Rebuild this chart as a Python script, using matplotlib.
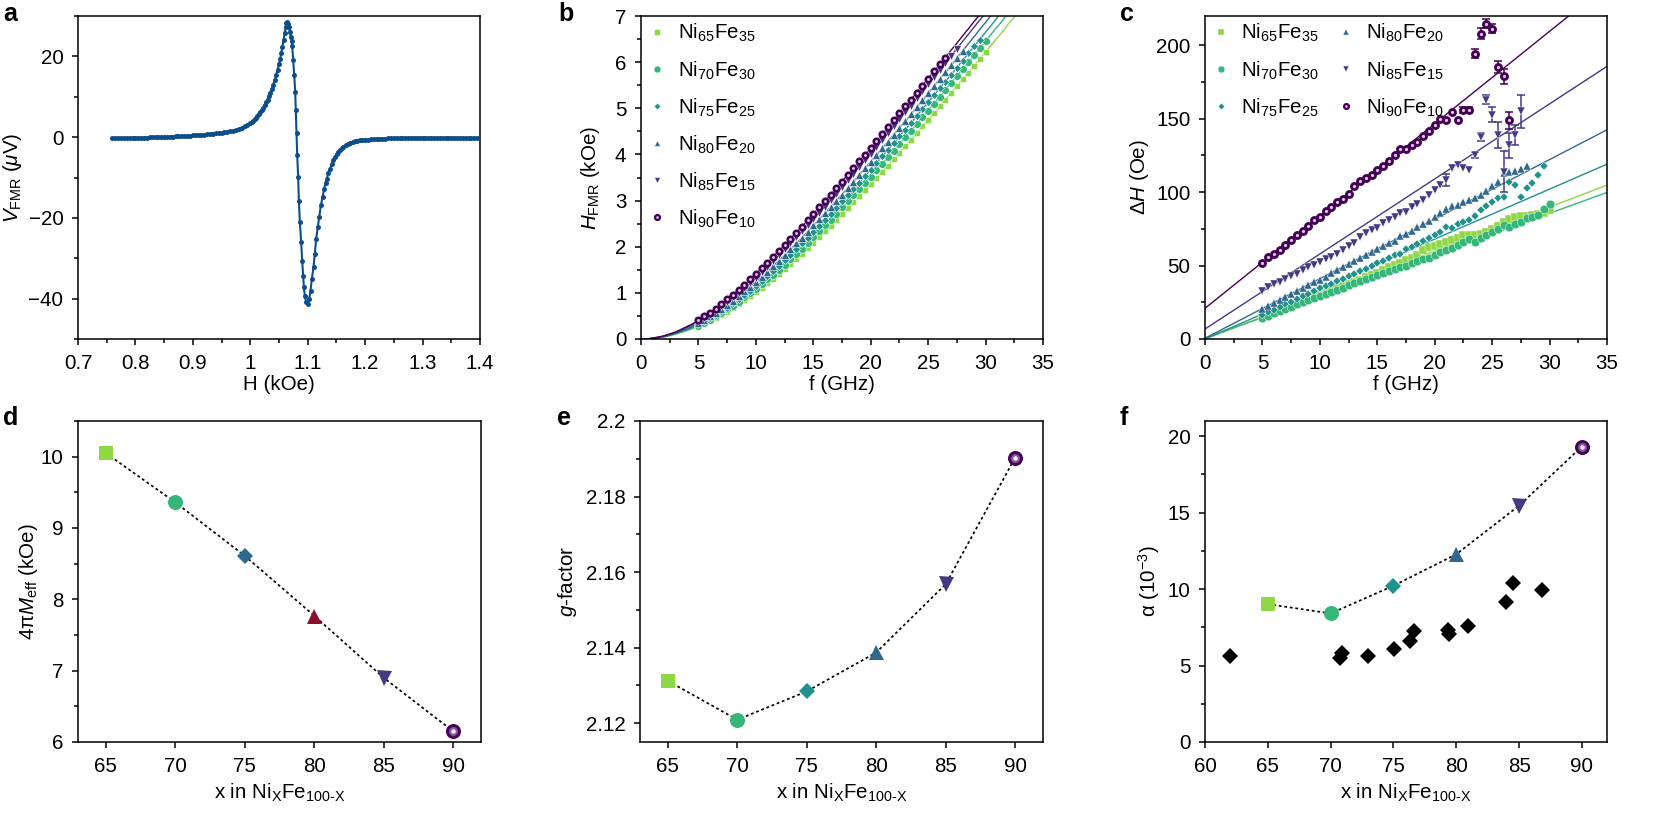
import numpy as np
import matplotlib
matplotlib.use('Agg')
import matplotlib.pyplot as plt
from matplotlib.ticker import MultipleLocator, FormatStrFormatter

plt.rcParams['font.family'] = ['Liberation Sans', 'DejaVu Sans']
plt.rcParams['mathtext.fontset'] = 'custom'
plt.rcParams['mathtext.rm'] = 'Liberation Sans'
plt.rcParams['mathtext.it'] = 'Liberation Sans:italic'
plt.rcParams['mathtext.bf'] = 'Liberation Sans:bold'
FS = 14.8
plt.rcParams['font.size'] = FS
plt.rcParams['axes.linewidth'] = 1.1

# ---------------- data ----------------
names = ['Ni$_{65}$Fe$_{35}$', 'Ni$_{70}$Fe$_{30}$', 'Ni$_{75}$Fe$_{25}$',
         'Ni$_{80}$Fe$_{20}$', 'Ni$_{85}$Fe$_{15}$', 'Ni$_{90}$Fe$_{10}$']
colors = ['#8fd744', '#35b779', '#21918c', '#31688e', '#443983', '#440154']
markers = ['s', 'o', 'D', '^', 'v', 'o']

# panel a: FMR spectrum
H_a = [0.760, 0.765, 0.770, 0.775, 0.780, 0.785, 0.790, 0.795, 0.800, 0.805,
       0.810, 0.815, 0.820, 0.825, 0.830, 0.835, 0.840, 0.845, 0.850, 0.855,
       0.860, 0.865, 0.870, 0.875, 0.880, 0.885, 0.890, 0.895, 0.900, 0.905,
       0.910, 0.915, 0.920, 0.925, 0.930, 0.935, 0.940, 0.945, 0.950, 0.955,
       0.960, 0.965, 0.970, 0.975, 0.980, 0.985, 0.990, 0.995,
       1.000, 1.0025, 1.005, 1.0075, 1.010, 1.0125, 1.015, 1.0175, 1.020, 1.0225,
       1.025, 1.0275, 1.030, 1.0325, 1.035, 1.0375, 1.040, 1.0425, 1.045, 1.0475,
       1.050, 1.052, 1.054, 1.056, 1.058, 1.060, 1.0615, 1.0626, 1.0640, 1.0655,
       1.0672, 1.0690, 1.0706, 1.0718, 1.0730, 1.0747, 1.0765, 1.0782, 1.0793, 1.0805,
       1.0817, 1.0834, 1.0846, 1.0863, 1.0886, 1.0904, 1.0921, 1.0933, 1.0950, 1.0973,
       1.0997, 1.1026, 1.1049, 1.1072, 1.1101, 1.1124, 1.1147, 1.1176, 1.1200, 1.1229,
       1.1258, 1.1287, 1.131, 1.1333, 1.136, 1.1391, 1.142, 1.1449, 1.148, 1.151,
       1.1536, 1.157, 1.160, 1.1623, 1.166, 1.170, 1.1739, 1.178, 1.182, 1.186,
       1.1913, 1.195, 1.200, 1.205, 1.210, 1.215, 1.220, 1.225, 1.230, 1.235,
       1.240, 1.245, 1.250, 1.255, 1.260, 1.265, 1.270, 1.275, 1.280, 1.285,
       1.290, 1.295, 1.300, 1.305, 1.310, 1.315, 1.320, 1.325, 1.330, 1.335,
       1.340, 1.345, 1.350, 1.355, 1.360, 1.365, 1.370, 1.375, 1.380, 1.385,
       1.390, 1.395]
V_a = [-0.30, -0.29, -0.28, -0.26, -0.25, -0.24, -0.22, -0.21, -0.19, -0.17,
       -0.15, -0.13, -0.11, -0.09, -0.07, -0.05, -0.02, 0.01, 0.04, 0.07,
       0.10, 0.13, 0.17, 0.21, 0.25, 0.29, 0.33, 0.37, 0.42, 0.47,
       0.52, 0.58, 0.64, 0.71, 0.78, 0.86, 0.95, 1.04, 1.13, 1.23,
       1.35, 1.45, 1.60, 1.80, 2.00, 2.30, 2.65, 3.00,
       3.40, 3.70, 4.00, 4.40, 4.80, 5.30, 5.80, 6.30, 6.80, 7.30,
       8.00, 8.60, 9.30, 10.1, 11.0, 11.9, 13.0, 14.1, 15.3, 16.6,
       18.0, 19.4, 20.8, 22.4, 24.1, 25.9, 27.2, 28.2, 28.4, 28.0,
       27.2, 26.0, 24.9, 23.8, 22.5, 19.1, 15.4, 11.3, 6.7, 0.9,
       -4.5, -9.9, -15.7, -21.0, -26.0, -30.6, -34.3, -37.2, -39.3, -40.9,
       -41.3, -40.1, -38.0, -35.1, -32.2, -28.9, -25.2, -22.3, -19.8, -16.9,
       -14.8, -12.8, -11.3, -10.3, -9.0, -7.8, -6.7, -5.7, -4.9, -4.2,
       -3.6, -3.1, -2.7, -2.4, -2.0, -1.7, -1.4, -1.2, -1.05, -0.9,
       -0.75, -0.70, -0.65, -0.60, -0.55, -0.50, -0.46, -0.42, -0.39, -0.36,
       -0.33, -0.31, -0.29, -0.27, -0.25, -0.24, -0.22, -0.21, -0.20, -0.19,
       -0.18, -0.18, -0.17, -0.17, -0.17, -0.17, -0.17, -0.18, -0.18, -0.18,
       -0.19, -0.19, -0.20, -0.20, -0.21, -0.21, -0.22, -0.22, -0.23, -0.23,
       -0.24, -0.25]

# panel b: resonance field vs frequency (fit curve values; measured points from 5 GHz)
f_b = [0, 0.5, 1, 1.5, 2, 2.5, 3, 3.5, 4, 4.5, 5, 5.5, 6, 6.5, 7, 7.5, 8, 8.5, 9, 9.5,
       10, 10.5, 11, 11.5, 12, 12.5, 13, 13.5, 14, 14.5, 15, 15.5, 16, 16.5, 17, 17.5,
       18, 18.5, 19, 19.5, 20, 20.5, 21, 21.5, 22, 22.5, 23, 23.5, 24, 24.5, 25, 25.5,
       26, 26.5, 27, 27.5, 28, 28.5, 29, 29.5, 30, 30.5, 31, 31.5, 32, 32.5, 33]
H65 = [0.00, 0.00, 0.01, 0.03, 0.04, 0.07, 0.10, 0.14, 0.18, 0.22, 0.27, 0.33, 0.39, 0.45, 0.52, 0.59, 0.67, 0.75, 0.84, 0.93, 1.02, 1.11, 1.21,
       1.31, 1.41, 1.52, 1.63, 1.74, 1.85, 1.97, 2.09, 2.21, 2.33, 2.45, 2.58, 2.70, 2.83, 2.96, 3.09, 3.22, 3.36, 3.49, 3.63, 3.76, 3.90, 4.04,
       4.18, 4.32, 4.46, 4.61, 4.75, 4.89, 5.04, 5.19, 5.33, 5.48, 5.63, 5.77, 5.92, 6.07, 6.22, 6.37, 6.52, 6.67, 6.83, 6.98, 7.13]
H70 = [0.00, 0.00, 0.01, 0.03, 0.05, 0.08, 0.11, 0.15, 0.19, 0.24, 0.29, 0.35, 0.42, 0.49, 0.56, 0.64, 0.72, 0.81, 0.90, 0.99, 1.09, 1.19, 1.29,
       1.39, 1.50, 1.61, 1.73, 1.84, 1.96, 2.08, 2.21, 2.33, 2.46, 2.58, 2.71, 2.85, 2.98, 3.11, 3.25, 3.38, 3.52, 3.66, 3.80, 3.94, 4.08, 4.23,
       4.37, 4.51, 4.66, 4.81, 4.95, 5.10, 5.25, 5.40, 5.55, 5.70, 5.85, 6.00, 6.15, 6.30, 6.45, 6.61, 6.76, 6.91, 7.07, 7.22, 7.38]
H75 = [0.00, 0.00, 0.01, 0.03, 0.05, 0.08, 0.12, 0.16, 0.20, 0.26, 0.32, 0.38, 0.45, 0.52, 0.60, 0.68, 0.77, 0.86, 0.95, 1.05, 1.15, 1.26, 1.37,
       1.48, 1.59, 1.71, 1.83, 1.95, 2.07, 2.19, 2.32, 2.45, 2.58, 2.71, 2.84, 2.98, 3.12, 3.25, 3.39, 3.53, 3.67, 3.81, 3.96, 4.10, 4.24, 4.39,
       4.54, 4.68, 4.83, 4.98, 5.13, 5.28, 5.43, 5.58, 5.73, 5.88, 6.03, 6.19, 6.34, 6.49, 6.65, 6.80, 6.96, 7.11, 7.27, 7.43, 7.58]
H80 = [0.00, 0.00, 0.01, 0.03, 0.06, 0.09, 0.13, 0.17, 0.22, 0.28, 0.34, 0.41, 0.49, 0.57, 0.65, 0.74, 0.83, 0.93, 1.03, 1.13, 1.24, 1.35, 1.46,
       1.58, 1.70, 1.82, 1.94, 2.07, 2.19, 2.32, 2.46, 2.59, 2.72, 2.86, 3.00, 3.13, 3.27, 3.41, 3.56, 3.70, 3.84, 3.99, 4.13, 4.28, 4.43, 4.58,
       4.72, 4.87, 5.02, 5.17, 5.33, 5.48, 5.63, 5.78, 5.93, 6.09, 6.24, 6.40, 6.55, 6.71, 6.86, 7.02, 7.17, 7.33, 7.49, 7.65, 7.80]
H85 = [0.00, 0.00, 0.02, 0.04, 0.06, 0.10, 0.14, 0.19, 0.25, 0.31, 0.38, 0.45, 0.53, 0.62, 0.71, 0.80, 0.90, 1.00, 1.11, 1.22, 1.33, 1.45, 1.57,
       1.69, 1.81, 1.94, 2.07, 2.20, 2.33, 2.46, 2.60, 2.74, 2.87, 3.01, 3.15, 3.30, 3.44, 3.58, 3.73, 3.87, 4.02, 4.17, 4.31, 4.46, 4.61, 4.76,
       4.91, 5.06, 5.22, 5.37, 5.52, 5.67, 5.83, 5.98, 6.14, 6.29, 6.45, 6.60, 6.76, 6.91, 7.07, 7.23, 7.38, 7.54, 7.70, 7.85, 8.01]
H90 = [0.00, 0.00, 0.02, 0.04, 0.07, 0.11, 0.15, 0.21, 0.27, 0.33, 0.41, 0.49, 0.57, 0.66, 0.76, 0.86, 0.96, 1.07, 1.18, 1.29, 1.41, 1.53, 1.65,
       1.78, 1.91, 2.03, 2.17, 2.30, 2.43, 2.57, 2.71, 2.85, 2.99, 3.13, 3.27, 3.41, 3.56, 3.70, 3.85, 3.99, 4.14, 4.29, 4.44, 4.59, 4.74, 4.89,
       5.04, 5.19, 5.34, 5.49, 5.64, 5.80, 5.95, 6.10, 6.26, 6.41, 6.57, 6.72, 6.88, 7.03, 7.19, 7.34, 7.50, 7.66, 7.81, 7.97, 8.13]
H_b = [H65, H70, H75, H80, H85, H90]
f_meas_start = 5.0
f_meas_end = [30.0, 30.0, 29.5, 28.0, 27.5, 26.5]

# panel c: linewidth vs frequency (measured from 5 GHz in 0.5 GHz steps)
dH65 = [14.9, 16.5, 18, 19.5, 21, 22.5, 24, 25.5, 27, 28.5, 30, 31.5, 33, 34.5, 36, 37.5, 39, 40.5, 42, 43.5,
        45, 47, 49, 50.5, 52, 53.5, 55, 57, 60.5, 62.5, 63.5, 64.5, 66, 67.5, 69, 70.5, 71, 71, 71.5, 73,
        75, 77, 79.5, 82, 83, 84, 84, 84.5, 85, 86, 88]
dH70 = [14.5, 16, 17.5, 19, 20.5, 22, 23.5, 25, 26.5, 28, 29, 30.5, 32, 33.5, 35, 36.5, 38, 39.5, 41, 42,
        43.5, 45, 46.5, 48, 49, 50, 51.5, 53, 54.5, 55, 57, 59, 60.5, 62, 64, 66, 68, 66, 68.5, 71,
        73, 75, 77.5, 76, 78.5, 80, 82.5, 83, 84.5, 88.5, 92]
dH75 = [16.5, 18.5, 20, 22, 23.5, 25.5, 27, 29, 30.5, 32.5, 34.5, 36, 37.5, 39.5, 41, 43, 44.5, 46, 48, 49.5,
        51.5, 53, 55, 57, 58, 61, 63, 65, 67, 68.5, 70.5, 73, 76, 75.5, 78, 79.5, 81, 84, 88, 90.5,
        93, 96, 96.5, 107, 105, 97, 103, 106, 112, 118]
dH80 = [20.5, 22.5, 24.5, 26.5, 28.5, 30.5, 32.5, 34.5, 36.5, 38.7, 40.5, 42.5, 44.8, 46.8, 48.8, 51, 53, 55, 57, 59,
        61, 63.5, 65.5, 67, 70, 71.5, 73.5, 76, 78, 80.5, 83, 85.5, 88.5, 90.5, 91.5, 93.5, 94.5, 96, 98, 101,
        104, 107, 113, 113.5, 114.5, 116, 117.5]
dH85 = [33.0, 35.2, 37.5, 39.0, 41.0, 43.0, 44.3, 47.0, 49.3, 50.5, 52.7, 54.5, 56.0, 58.0, 60.7, 63.6, 65.2, 69.8, 72.0, 74.3,
        75.5, 78.9, 81.1, 83.0, 85.7, 86.8, 90.2, 92.0, 94.8, 98.2, 101.6, 105.0, 108.4, 116.4, 118.6, 116.4, 114.8, 125.5, 137.5, 163.0,
        152.7, 139.0, 114.0, 132.0, 139.0, 155.0]
dH90 = [51.6, 55.7, 58.0, 60.7, 64.0, 67.5, 70.9, 73.6, 77.0, 81.1, 83.0, 87.3, 90.2, 93.6, 95.5, 98.9, 103.9, 107.7, 109.5, 111.8,
        115.2, 118.0, 121.4, 125.0, 129.5, 129.5, 131.8, 134.5, 138.0, 142.0, 145.5, 150.0, 148.9, 154.5, 149.3, 156.1, 155.7, 194.3, 208.0, 214.8,
        211.4, 185.2, 178.9, 148.9]
err85 = [0.0] * 30 + [0, 0, 4, 0, 0, 0, 0, 2, 2.5, 3, 5, 9, 14, 8.5, 7, 11]
err90 = [0.0] * 30 + [0, 0, 0, 0, 0, 2, 2, 3, 4, 3, 3, 4, 5, 6]
dH_c = [dH65, dH70, dH75, dH80, dH85, dH90]
err_c = [None, None, None, None, err85, err90]
# linear fits: value at f = 0 and f = 35 GHz
fit_f = [0, 35]
fit_c = [[0.0, 104.8], [0.5, 99.8], [0.0, 119.1], [0.5, 142.5], [6.8, 185.7], [20.9, 241.0]]

# panels d-f
x_comp = [65, 70, 75, 80, 85, 90]
Meff = [10.05, 9.36, 8.61, 7.77, 6.90, 6.15]
gfac = [2.1312, 2.1209, 2.1284, 2.1387, 2.1568, 2.1903]
alpha = [9.02, 8.41, 10.22, 12.28, 15.46, 19.33]
colors_d = ['#8fd744', '#35b779', '#2f6b8f', '#8c0f2c', '#443983', '#440154']
x_lit = [62.0, 70.74, 70.94, 72.97, 75.07, 76.31, 76.63, 79.31, 79.41, 80.92, 83.96, 84.5, 86.83]
a_lit = [5.63, 5.48, 5.80, 5.63, 6.07, 6.61, 7.26, 7.33, 7.07, 7.61, 9.17, 10.37, 9.93]

# ---------------- figure ----------------
fig = plt.figure(figsize=(16.61, 8.16), dpi=100)
axa = fig.add_axes([0.04696, 0.58456, 0.24202, 0.39583])
axb = fig.add_axes([0.38591, 0.58456, 0.24202, 0.39583])
axc = fig.add_axes([0.72547, 0.58456, 0.24202, 0.39583])
axd = fig.add_axes([0.04696, 0.09069, 0.24262, 0.39338])
axe = fig.add_axes([0.38531, 0.09069, 0.24262, 0.39338])
axf = fig.add_axes([0.72547, 0.09069, 0.24202, 0.39338])


def style(ax):
    ax.tick_params(which='both', direction='out', top=False, right=False,
                   labelsize=FS, width=1.1)
    ax.tick_params(which='major', length=4.5)
    ax.tick_params(which='minor', length=2.6)
    ax.tick_params(axis='x', which='both', pad=6.0)
    ax.tick_params(axis='y', which='both', pad=6.0)


for ax in [axa, axb, axc, axd, axe, axf]:
    style(ax)

# ---- a
axa.plot(H_a, V_a, '-', color='#0d4d8a', lw=1.5, zorder=2)
axa.plot(H_a, V_a, 'o', color='#0d4d8a', ms=3.6, mew=0, zorder=3)
axa.set_xlim(0.7, 1.4)
axa.set_ylim(-50, 30)
axa.xaxis.set_major_locator(MultipleLocator(0.1))
axa.xaxis.set_minor_locator(MultipleLocator(0.05))
axa.xaxis.set_major_formatter(FormatStrFormatter('%g'))
axa.yaxis.set_major_locator(MultipleLocator(20))
axa.yaxis.set_minor_locator(MultipleLocator(10))
axa.set_xlabel('H (kOe)')
axa.set_ylabel('$V_\\mathrm{FMR}$ ($\\mu$V)')


def dark_circle(ax, x, y, ms, z=3):
    a = ax.plot(x, y, 'o', ls='none', color='#440154', ms=ms, mew=0, zorder=z)[0]
    b = ax.plot(x, y, 'o', ls='none', color='#d9c8e0', ms=ms * 0.36, mew=0, zorder=z + 0.1)[0]
    return (a, b)


# ---- b
fb = np.array(f_b)
ms_b = [5.0, 5.6, 3.8, 5.4, 5.4, 5.8]
hb = []
for i in range(6):
    Hb = np.array(H_b[i])
    axb.plot(fb, Hb, '-', color=colors[i], lw=1.0, zorder=2)
    sel = (fb >= f_meas_start) & (fb <= f_meas_end[i])
    if i == 5:
        hb.append(dark_circle(axb, fb[sel], Hb[sel], ms_b[i]))
    else:
        hb.append(axb.plot(fb[sel], Hb[sel], markers[i], ls='none', ms=ms_b[i], color=colors[i],
                           mec='white', mew=0.4, zorder=3)[0])
axb.set_xlim(0, 35)
axb.set_ylim(0, 7)
axb.xaxis.set_major_locator(MultipleLocator(5))
axb.xaxis.set_minor_locator(MultipleLocator(2.5))
axb.yaxis.set_major_locator(MultipleLocator(1))
axb.yaxis.set_minor_locator(MultipleLocator(0.5))
axb.set_xlabel('f (GHz)')
axb.set_ylabel('$H_\\mathrm{FMR}$ (kOe)')
axb.legend(hb, names, loc='upper left', bbox_to_anchor=(0.0, 1.0), frameon=False, fontsize=FS,
           handlelength=1.0, handletextpad=0.5, labelspacing=0.72, borderpad=0.1,
           borderaxespad=0.2, markerscale=0.9)

# ---- c
ms_c = [6.2, 6.2, 4.2, 5.6, 5.6, 6.4]
hc = []
for i in range(6):
    axc.plot(fit_f, fit_c[i], '-', color=colors[i], lw=1.0, zorder=2)
for i in range(6):
    d = np.array(dH_c[i])
    fc = fb[10:10 + len(d)]
    if err_c[i] is not None:
        e = np.array(err_c[i])
        big = e > 0
        axc.errorbar(fc[big], d[big], yerr=e[big], fmt='none', ecolor=colors[i],
                     elinewidth=1.1, capsize=3.0, capthick=1.1, zorder=2.5)
    if i == 5:
        hc.append(dark_circle(axc, fc, d, ms_c[i]))
    else:
        hc.append(axc.plot(fc, d, markers[i], ls='none', ms=ms_c[i], color=colors[i],
                           mec='white', mew=0.3, zorder=3)[0])
axc.set_xlim(0, 35)
axc.set_ylim(0, 220)
axc.xaxis.set_major_locator(MultipleLocator(5))
axc.xaxis.set_minor_locator(MultipleLocator(2.5))
axc.yaxis.set_major_locator(MultipleLocator(50))
axc.yaxis.set_minor_locator(MultipleLocator(25))
axc.set_xlabel('f (GHz)')
axc.set_ylabel('Δ$H$ (Oe)')
axc.legend(hc, names, loc='upper left', bbox_to_anchor=(0.0, 1.0), ncol=2, frameon=False,
           fontsize=FS, handlelength=1.0, handletextpad=0.45, labelspacing=0.72,
           columnspacing=0.85, borderpad=0.1, borderaxespad=0.2, markerscale=0.8)


# ---- d, e, f
def sphere(ax, x, y, ms):
    ax.plot([x], [y], 'o', color='#440154', ms=ms, mew=0, zorder=4)
    ax.plot([x], [y], 'o', color='#86589a', ms=ms * 0.6, mew=0, zorder=5)
    ax.plot([x], [y], 'o', color='#f4eef6', ms=ms * 0.3, mew=0, zorder=6)


ms_big = [9.8, 10.8, 8.0, 10.8, 10.8, 10.8]


def comp_panel(ax, yv, cols):
    ax.plot(x_comp, yv, color='black', ls=(0, (1.6, 1.6)), lw=1.25, zorder=2)
    for i in range(6):
        if i == 5:
            sphere(ax, x_comp[i], yv[i], ms_big[i])
        else:
            ax.plot([x_comp[i]], [yv[i]], markers[i], color=cols[i], ms=ms_big[i],
                    mew=0, zorder=4)


comp_panel(axd, Meff, colors_d)
axd.set_xlim(63, 92)
axd.set_ylim(6, 10.5)
axd.xaxis.set_major_locator(MultipleLocator(5))
axd.yaxis.set_major_locator(MultipleLocator(1))
axd.yaxis.set_minor_locator(MultipleLocator(0.5))
axd.set_ylabel('4π$M_\\mathrm{eff}$ (kOe)')

comp_panel(axe, gfac, colors)
axe.set_xlim(63, 92)
axe.set_ylim(2.115, 2.2)
axe.xaxis.set_major_locator(MultipleLocator(5))
axe.yaxis.set_major_locator(MultipleLocator(0.02))
axe.yaxis.set_minor_locator(MultipleLocator(0.01))
axe.yaxis.set_major_formatter(FormatStrFormatter('%g'))
axe.set_ylabel('$g$-factor')

axf.plot(x_lit, a_lit, 'D', color='black', ms=8.0, mew=0, zorder=3)
comp_panel(axf, alpha, colors)
axf.set_xlim(60, 92)
axf.set_ylim(0, 21)
axf.xaxis.set_major_locator(MultipleLocator(5))
axf.yaxis.set_major_locator(MultipleLocator(5))
axf.yaxis.set_minor_locator(MultipleLocator(2.5))
axf.set_ylabel('α (10$^{-3}$)')

for ax in [axd, axe, axf]:
    ax.set_xlabel('x in Ni$_\\mathrm{X}$Fe$_\\mathrm{100\u2010X}$')

# label positions
for ax, xl in [(axa, -0.134), (axb, -0.096), (axc, -0.135),
               (axd, -0.094), (axe, -0.151), (axf, -0.108)]:
    ax.yaxis.set_label_coords(xl, 0.5)
for ax in [axa, axb, axc]:
    ax.xaxis.set_label_coords(0.5, -0.113)
for ax in [axd, axe, axf]:
    ax.xaxis.set_label_coords(0.5, -0.125)

# panel letters
for lab, x, y in [('a', 0.0018, 0.9743), ('b', 0.3359, 0.9743), ('c', 0.6743, 0.9743),
                  ('d', 0.0018, 0.4792), ('e', 0.3353, 0.4792), ('f', 0.6743, 0.4792)]:
    fig.text(x, y, lab, fontsize=18, fontweight='bold', va='baseline', ha='left')

fig.savefig('out.png', dpi=100)
